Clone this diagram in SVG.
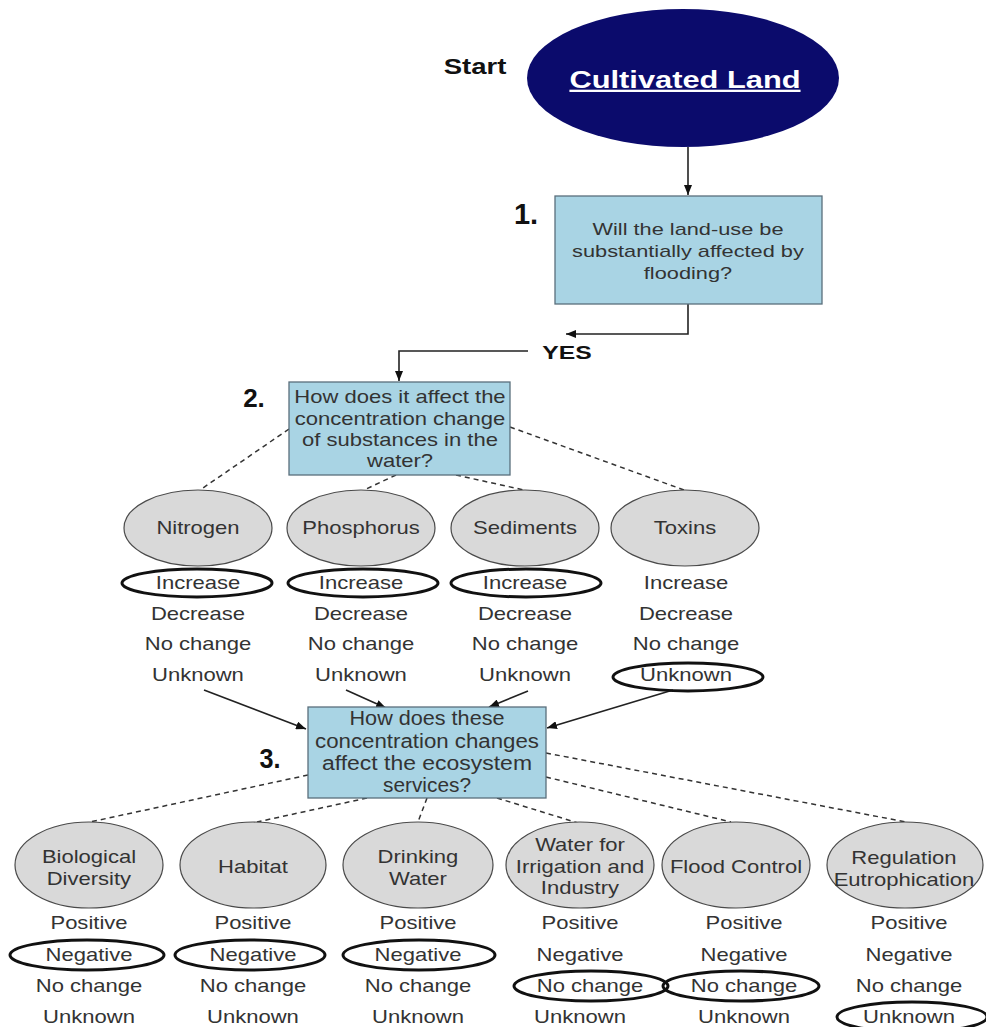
<svg xmlns="http://www.w3.org/2000/svg" width="986" height="1027" viewBox="0 0 986 1027">
  <defs>
    <marker id="arrow" viewBox="0 0 10 8" refX="10" refY="4" markerWidth="10" markerHeight="8" markerUnits="userSpaceOnUse" orient="auto">
      <path d="M0,0 L10,4 L0,8 z" fill="#111"/>
    </marker>
    <style>
      text { font-family: "Liberation Sans", Arial, sans-serif; fill: #333; text-anchor: middle; }
      .sx { transform-box: fill-box; transform-origin: center; }
      .t { font-size: 18.5px; transform: scaleX(1.19); }
      .t1 { font-size: 17px; transform: scaleX(1.28); }
      .bold { font-weight: bold; fill: #111; }
      .box { fill: #a9d4e4; stroke: #5a6f7c; stroke-width: 1.3; }
      .node { fill: #d9d9d9; stroke: #4a4a4a; stroke-width: 1.2; }
      .pick { fill: none; stroke: #111; stroke-width: 3; }
      .solid { fill: none; stroke: #222; stroke-width: 1.6; }
      .dash { fill: none; stroke: #333; stroke-width: 1.5; stroke-dasharray: 5 4; }
      .q3 { font-size: 19.5px; }
    </style>
  </defs>

  <rect width="986" height="1027" fill="#ffffff"/>

  <!-- connectors -->
  <g id="connectors">
    <path class="solid" d="M688,147 L688,195" marker-end="url(#arrow)"/>
    <path class="solid" d="M688,304 L688,334 L566,334" marker-end="url(#arrow)"/>
    <path class="solid" d="M528,351 L399,351 L399,381" marker-end="url(#arrow)"/>
    <text class="bold sx" x="567" y="359" style="font-size:19px; transform: scaleX(1.3);">YES</text>

    <!-- question 2 to substances -->
    <path class="dash" d="M289,429 L200,490"/>
    <path class="dash" d="M396,475 L364,490"/>
    <path class="dash" d="M456,475 L524,490"/>
    <path class="dash" d="M510,427 L684,490"/>

    <!-- substances to question 3 -->
    <path class="solid" d="M204,690 L306,729" marker-end="url(#arrow)"/>
    <path class="solid" d="M346,690 L386,708" marker-end="url(#arrow)"/>
    <path class="solid" d="M528,691 L489,707" marker-end="url(#arrow)"/>
    <path class="solid" d="M673,690 L547,728" marker-end="url(#arrow)"/>

    <!-- question 3 to services -->
    <path class="dash" d="M308,775 L90,822"/>
    <path class="dash" d="M367,798 L257,822"/>
    <path class="dash" d="M427,798 L418,822"/>
    <path class="dash" d="M497,798 L578,823"/>
    <path class="dash" d="M546,777 L731,822"/>
    <path class="dash" d="M546,753 L906,822"/>
  </g>

  <!-- start node -->
  <g id="start">
    <text class="bold sx" x="475" y="74" style="font-size:22px; transform: scaleX(1.25);">Start</text>
    <ellipse cx="683" cy="78" rx="156" ry="69" fill="#0b0b6c"/>
    <text class="sx" x="685" y="88" style="font-size:23px; font-weight:bold; fill:#ffffff; text-decoration:underline; transform: scaleX(1.34);">Cultivated Land</text>
  </g>

  <!-- question 1 -->
  <g id="q1">
    <text class="bold sx" x="526" y="224" style="font-size:29px;">1.</text>
    <rect class="box" x="555" y="196" width="267" height="108"/>
    <text class="t1 sx" x="688" y="235">Will the land-use be</text>
    <text class="t1 sx" x="688" y="257">substantially affected by</text>
    <text class="t1 sx" x="688" y="279">flooding?</text>
  </g>

  <!-- question 2 -->
  <g id="q2">
    <text class="bold sx" x="254" y="407" style="font-size:26px;">2.</text>
    <rect class="box" x="289" y="382" width="221" height="93"/>
    <text class="t sx" x="400" y="403">How does it affect the</text>
    <text class="t sx" x="400" y="425">concentration change</text>
    <text class="t sx" x="400" y="446">of substances in the</text>
    <text class="t sx" x="400" y="467">water?</text>
  </g>

  <!-- substances -->
  <g id="nitrogen">
    <ellipse class="node" cx="198" cy="528" rx="74" ry="38"/>
    <text class="t sx" x="198" y="534">Nitrogen</text>
    <ellipse class="pick" cx="197" cy="583" rx="75" ry="14"/>
    <text class="t sx" x="198" y="589">Increase</text>
    <text class="t sx" x="198" y="620">Decrease</text>
    <text class="t sx" x="198" y="650">No change</text>
    <text class="t sx" x="198" y="681">Unknown</text>
  </g>
  <g id="phosphorus">
    <ellipse class="node" cx="361" cy="528" rx="74" ry="38"/>
    <text class="t sx" x="361" y="534">Phosphorus</text>
    <ellipse class="pick" cx="363" cy="583" rx="75" ry="14"/>
    <text class="t sx" x="361" y="589">Increase</text>
    <text class="t sx" x="361" y="620">Decrease</text>
    <text class="t sx" x="361" y="650">No change</text>
    <text class="t sx" x="361" y="681">Unknown</text>
  </g>
  <g id="sediments">
    <ellipse class="node" cx="525" cy="528" rx="74" ry="38"/>
    <text class="t sx" x="525" y="534">Sediments</text>
    <ellipse class="pick" cx="526" cy="583" rx="75" ry="14"/>
    <text class="t sx" x="525" y="589">Increase</text>
    <text class="t sx" x="525" y="620">Decrease</text>
    <text class="t sx" x="525" y="650">No change</text>
    <text class="t sx" x="525" y="681">Unknown</text>
  </g>
  <g id="toxins">
    <ellipse class="node" cx="685" cy="528" rx="74" ry="38"/>
    <text class="t sx" x="685" y="534">Toxins</text>
    <text class="t sx" x="686" y="589">Increase</text>
    <text class="t sx" x="686" y="620">Decrease</text>
    <text class="t sx" x="686" y="650">No change</text>
    <ellipse class="pick" cx="688" cy="677" rx="75" ry="14"/>
    <text class="t sx" x="686" y="681">Unknown</text>
  </g>

  <!-- question 3 -->
  <g id="q3">
    <text class="bold sx" x="270" y="768" style="font-size:28px; fill:#111; transform: scaleX(0.9);">3.</text>
    <rect class="box" x="308" y="707" width="238" height="91"/>
    <text class="q3" x="427" y="725" textLength="155" lengthAdjust="spacingAndGlyphs">How does these</text>
    <text class="q3" x="427" y="748" textLength="224" lengthAdjust="spacingAndGlyphs">concentration changes</text>
    <text class="q3" x="427" y="770" textLength="210" lengthAdjust="spacingAndGlyphs">affect the ecosystem</text>
    <text class="q3" x="427" y="792" textLength="88" lengthAdjust="spacingAndGlyphs">services?</text>
  </g>

  <!-- ecosystem services -->
  <g id="biodiversity">
    <ellipse class="node" cx="89" cy="865" rx="74" ry="43"/>
    <text class="t sx" x="89" y="863">Biological</text>
    <text class="t sx" x="89" y="885">Diversity</text>
    <text class="t sx" x="89" y="929">Positive</text>
    <ellipse class="pick" cx="87" cy="955" rx="77" ry="15"/>
    <text class="t sx" x="89" y="961">Negative</text>
    <text class="t sx" x="89" y="992">No change</text>
    <text class="t sx" x="89" y="1023">Unknown</text>
  </g>
  <g id="habitat">
    <ellipse class="node" cx="253" cy="865" rx="73" ry="43"/>
    <text class="t sx" x="253" y="873">Habitat</text>
    <text class="t sx" x="253" y="929">Positive</text>
    <ellipse class="pick" cx="250" cy="955" rx="75" ry="15"/>
    <text class="t sx" x="253" y="961">Negative</text>
    <text class="t sx" x="253" y="992">No change</text>
    <text class="t sx" x="253" y="1023">Unknown</text>
  </g>
  <g id="drinking">
    <ellipse class="node" cx="418" cy="865" rx="75" ry="43"/>
    <text class="t sx" x="418" y="863">Drinking</text>
    <text class="t sx" x="418" y="885">Water</text>
    <text class="t sx" x="418" y="929">Positive</text>
    <ellipse class="pick" cx="419" cy="955" rx="76" ry="15"/>
    <text class="t sx" x="418" y="961">Negative</text>
    <text class="t sx" x="418" y="992">No change</text>
    <text class="t sx" x="418" y="1023">Unknown</text>
  </g>
  <g id="irrigation">
    <ellipse class="node" cx="580" cy="865" rx="74" ry="43"/>
    <text class="t sx" x="580" y="851">Water for</text>
    <text class="t sx" x="580" y="873">Irrigation and</text>
    <text class="t sx" x="580" y="894">Industry</text>
    <text class="t sx" x="580" y="929">Positive</text>
    <text class="t sx" x="580" y="961">Negative</text>
    <ellipse class="pick" cx="591" cy="986" rx="77" ry="15"/>
    <text class="t sx" x="590" y="992">No change</text>
    <text class="t sx" x="580" y="1023">Unknown</text>
  </g>
  <g id="flood">
    <ellipse class="node" cx="736" cy="865" rx="74" ry="43"/>
    <text class="t sx" x="736" y="873">Flood Control</text>
    <text class="t sx" x="744" y="929">Positive</text>
    <text class="t sx" x="744" y="961">Negative</text>
    <ellipse class="pick" cx="741" cy="986" rx="78" ry="15"/>
    <text class="t sx" x="744" y="992">No change</text>
    <text class="t sx" x="744" y="1023">Unknown</text>
  </g>
  <g id="eutrophication">
    <ellipse class="node" cx="905" cy="865" rx="78" ry="43"/>
    <text class="t sx" x="904" y="864">Regulation</text>
    <text class="t sx" x="904" y="886">Eutrophication</text>
    <text class="t sx" x="909" y="929">Positive</text>
    <text class="t sx" x="909" y="961">Negative</text>
    <text class="t sx" x="909" y="992">No change</text>
    <ellipse class="pick" cx="912" cy="1017" rx="75" ry="15"/>
    <text class="t sx" x="909" y="1023">Unknown</text>
  </g>
</svg>
